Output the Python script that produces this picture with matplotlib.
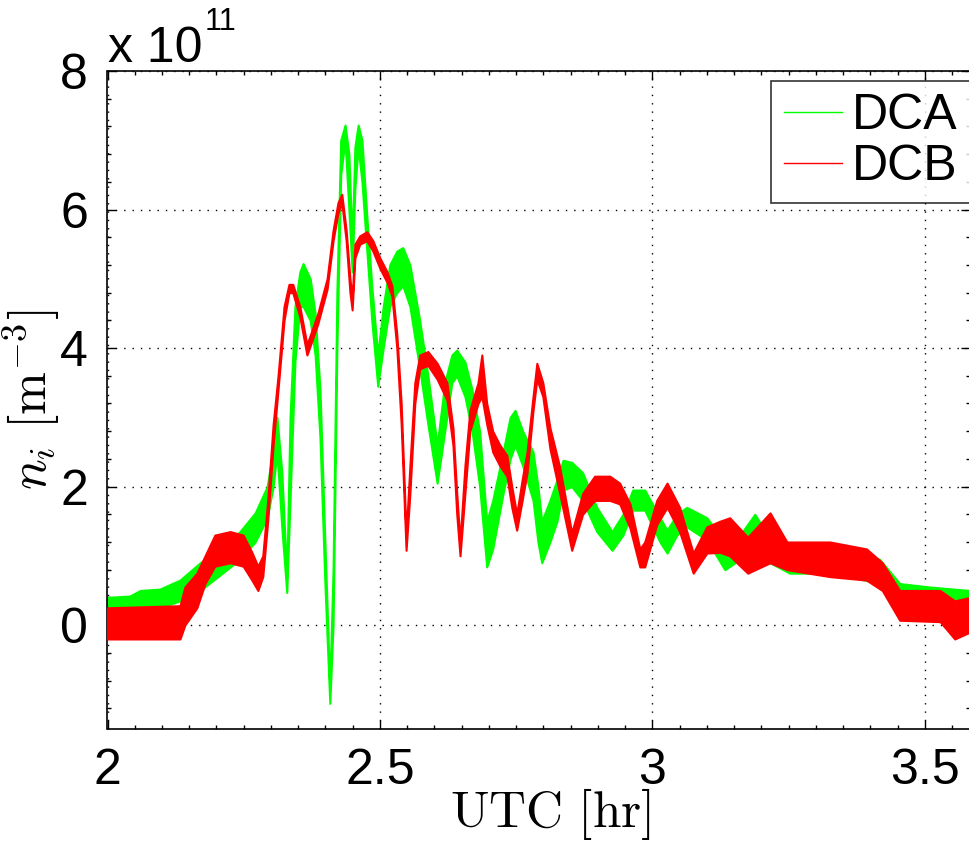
import numpy as np
import matplotlib
matplotlib.use("Agg")
import matplotlib.pyplot as plt
from matplotlib.ticker import MultipleLocator

plt.rcParams['font.family'] = ['Liberation Sans', 'DejaVu Sans']
plt.rcParams['mathtext.fontset'] = 'cm'

# UTC [hr] and envelope (low / high) of the noisy traces, in units of 1e11 m^-3
dca_t = [2.000, 2.041, 2.060, 2.096, 2.133, 2.170, 2.206, 2.243, 2.271, 2.293,
         2.304, 2.311, 2.320, 2.329, 2.335, 2.344, 2.353, 2.359, 2.372, 2.381,
         2.390, 2.399, 2.408, 2.414, 2.421, 2.428, 2.436, 2.443, 2.449, 2.454,
         2.460, 2.467, 2.476, 2.485, 2.496, 2.506, 2.518, 2.531, 2.542, 2.555,
         2.573, 2.588, 2.605, 2.619, 2.632, 2.641, 2.656, 2.669, 2.683, 2.696,
         2.707, 2.726, 2.739, 2.748, 2.762, 2.781, 2.790, 2.797, 2.812, 2.825,
         2.836, 2.852, 2.872, 2.898, 2.926, 2.946, 2.964, 2.986, 3.014, 3.027,
         3.045, 3.063, 3.100, 3.133, 3.161, 3.188, 3.216, 3.252, 3.307, 3.362,
         3.417, 3.454, 3.509, 3.583]
dca_lo = [0.10, 0.12, 0.15, 0.25, 0.35, 0.50, 0.72, 0.95, 1.20, 1.55,
          2.00, 2.50, 1.40, 0.47, 1.80, 3.80, 4.60, 4.60, 4.40, 3.90,
          2.70, 0.60, -1.13, 0.00, 4.00, 6.50, 7.00, 6.00, 5.10, 6.30,
          6.90, 6.40, 5.40, 4.40, 3.45, 4.00, 4.60, 4.80, 4.90, 4.60,
          3.70, 2.90, 2.05, 2.80, 3.50, 3.60, 3.30, 2.80, 2.00, 0.84,
          1.10, 1.90, 2.40, 2.60, 2.30, 1.80, 1.20, 0.90, 1.20, 1.50,
          1.95, 2.00, 1.80, 1.35, 1.08, 1.30, 1.66, 1.66, 1.20, 1.04,
          1.30, 1.42, 1.23, 0.80, 0.95, 1.25, 0.90, 0.75, 0.75, 0.70,
          0.60, 0.40, 0.35, 0.30]
dca_hi = [0.40, 0.42, 0.50, 0.52, 0.65, 0.90, 1.10, 1.35, 1.62, 2.00,
          2.55, 3.00, 2.20, 0.70, 3.00, 4.60, 5.10, 5.22, 5.00, 4.50,
          3.40, 1.20, -0.90, 0.80, 4.80, 7.00, 7.22, 6.80, 5.50, 6.90,
          7.22, 7.00, 5.90, 4.90, 3.90, 4.60, 5.20, 5.40, 5.45, 5.20,
          4.40, 3.60, 2.60, 3.50, 3.90, 3.97, 3.80, 3.40, 2.80, 1.50,
          1.80, 2.50, 3.00, 3.10, 2.80, 2.50, 2.00, 1.50, 1.80, 2.10,
          2.38, 2.35, 2.20, 1.70, 1.35, 1.60, 1.95, 1.95, 1.55, 1.37,
          1.60, 1.70, 1.55, 1.20, 1.30, 1.60, 1.25, 1.15, 1.12, 1.10,
          0.95, 0.60, 0.55, 0.50]

dcb_t = [2.000, 2.133, 2.142, 2.164, 2.179, 2.197, 2.225, 2.249, 2.265, 2.276,
         2.285, 2.294, 2.304, 2.313, 2.324, 2.333, 2.340, 2.353, 2.366, 2.375,
         2.386, 2.403, 2.414, 2.423, 2.430, 2.438, 2.445, 2.449, 2.454, 2.463,
         2.476, 2.487, 2.500, 2.513, 2.522, 2.531, 2.539, 2.548, 2.555, 2.564,
         2.573, 2.588, 2.605, 2.623, 2.634, 2.641, 2.647, 2.656, 2.665, 2.680,
         2.687, 2.696, 2.707, 2.720, 2.733, 2.742, 2.751, 2.761, 2.770, 2.781,
         2.788, 2.799, 2.812, 2.830, 2.852, 2.872, 2.894, 2.922, 2.940, 2.959,
         2.977, 2.986, 3.008, 3.027, 3.050, 3.075, 3.100, 3.124, 3.142, 3.175,
         3.216, 3.247, 3.326, 3.393, 3.422, 3.454, 3.528, 3.555, 3.583]
dcb_lo = [-0.20, -0.20, 0.00, 0.25, 0.60, 0.85, 0.90, 0.85, 0.65, 0.50,
          0.70, 1.50, 2.60, 3.40, 4.40, 4.80, 4.80, 4.45, 3.90, 4.10,
          4.35, 4.85, 5.55, 5.95, 6.10, 5.55, 4.80, 4.55, 5.30, 5.50,
          5.55, 5.40, 5.15, 4.95, 4.75, 4.00, 2.90, 1.08, 1.90, 3.20,
          3.70, 3.75, 3.55, 3.25, 2.60, 1.60, 1.00, 1.90, 2.80, 3.20,
          3.30, 2.90, 2.50, 2.30, 2.15, 1.70, 1.37, 1.80, 2.20, 3.10,
          3.55, 3.30, 2.55, 1.90, 1.08, 1.60, 1.80, 1.80, 1.75, 1.40,
          0.84, 0.84, 1.45, 1.70, 1.35, 0.75, 1.04, 1.05, 1.00, 0.75,
          0.90, 0.80, 0.70, 0.65, 0.50, 0.07, 0.05, -0.20, -0.10]
dcb_hi = [0.25, 0.28, 0.55, 0.75, 1.00, 1.30, 1.35, 1.30, 1.05, 0.85,
          1.00, 1.80, 2.90, 3.60, 4.60, 4.92, 4.92, 4.60, 4.05, 4.25,
          4.50, 5.00, 5.70, 6.10, 6.22, 5.70, 5.00, 4.70, 5.50, 5.62,
          5.68, 5.55, 5.30, 5.10, 4.90, 4.20, 3.20, 1.30, 2.30, 3.50,
          3.90, 3.95, 3.78, 3.50, 2.85, 1.90, 1.20, 2.30, 3.10, 3.50,
          3.90, 3.20, 2.80, 2.60, 2.45, 2.00, 1.60, 2.10, 2.50, 3.30,
          3.78, 3.50, 2.85, 2.28, 1.33, 1.90, 2.15, 2.15, 2.05, 1.75,
          1.10, 1.20, 1.80, 2.05, 1.70, 1.04, 1.42, 1.50, 1.55, 1.27,
          1.62, 1.20, 1.20, 1.10, 0.90, 0.50, 0.50, 0.35, 0.40]

fig = plt.figure(figsize=(9.7, 8.41), dpi=100)
ax = fig.add_axes([107.5 / 970, 112 / 841, 862.5 / 970, 658 / 841])

ax.fill_between(dca_t, dca_lo, dca_hi, color=(0, 1, 0), lw=1.5, zorder=2)
ax.fill_between(dcb_t, dcb_lo, dcb_hi, color=(1, 0, 0), lw=1.5, zorder=3)
# legend handles
ax.plot([], [], color=(0, 1, 0), lw=1, label='DCA')
ax.plot([], [], color=(1, 0, 0), lw=1, label='DCB')

ax.set_xlim(2, 3.583)
ax.set_ylim(-1.5, 8)
ax.set_xticks([2, 2.5, 3, 3.5])
ax.set_xticklabels(['2', '2.5', '3', '3.5'])
ax.set_yticks([0, 2, 4, 6, 8])
ax.set_yticklabels(['0', '2', '4', '6', '8'])
ax.xaxis.set_minor_locator(MultipleLocator(0.05))
ax.yaxis.set_minor_locator(MultipleLocator(0.4))
ax.tick_params(which='both', direction='in', top=True, right=True, labelsize=36, width=1)
ax.tick_params(which='major', length=6.5, pad=14)
ax.tick_params(which='minor', length=3.2)
ax.grid(True, which='major', linestyle=(0, (1, 5)), color='k', lw=1.0)
for s in ax.spines.values():
    s.set_linewidth(1.2)

ax.set_xlabel(r'$\mathrm{UTC\ [hr]}$', fontsize=37)
ax.set_ylabel(r'$n_i\ [\mathrm{m}^{-3}]$', fontsize=37)
ax.xaxis.set_label_coords(0.513, -0.086)
ax.yaxis.set_label_coords(-0.052, 0.5)

fig.text(108 / 970, 1 - 62 / 841, 'x 10', fontsize=36, ha='left', va='baseline')
fig.text(205 / 970, 1 - 30 / 841, '11', fontsize=22, ha='left', va='baseline')

leg = ax.legend(loc='upper right', bbox_to_anchor=(1.0, 0.985), fontsize=36,
                frameon=True, fancybox=False, edgecolor='k', handlelength=1.16,
                handletextpad=0.2, labelspacing=0.1, borderpad=0.25, borderaxespad=0)
leg.get_frame().set_linewidth(1.2)

fig.savefig('out.png', dpi=100)
